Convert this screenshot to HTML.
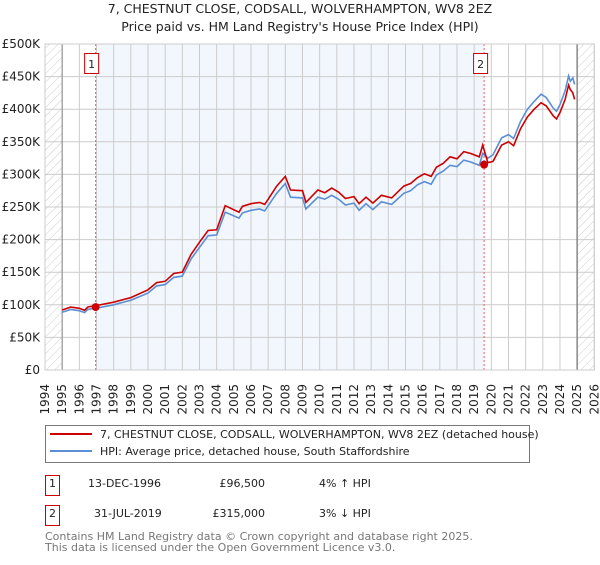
<!DOCTYPE html>
<html><head><meta charset="utf-8"><style>
body{margin:0;background:#fff;width:600px;height:560px;overflow:hidden;font-family:"Liberation Sans","DejaVu Sans",sans-serif}
svg text{font-family:"DejaVu Sans","Liberation Sans",sans-serif}
</style></head><body>
<svg id="chart" width="600" height="560" xmlns="http://www.w3.org/2000/svg">
<defs><pattern id="hatch" patternUnits="userSpaceOnUse" width="6" height="6" patternTransform="rotate(45)"><line x1="0" y1="0" x2="0" y2="6" stroke="#ccc" stroke-width="1"/></pattern></defs>
<text x="300" y="13" text-anchor="middle" font-size="12.5" fill="#222">7, CHESTNUT CLOSE, CODSALL, WOLVERHAMPTON, WV8 2EZ</text>
<text x="300" y="31" text-anchor="middle" font-size="12.5" fill="#222">Price paid vs. HM Land Registry's House Price Index (HPI)</text>
<g id="plot"></g>
<rect x="45.5" y="425.5" width="484" height="37" fill="#fff" stroke="#777"/>
<line x1="50" y1="434" x2="92" y2="434" stroke="#cc0000" stroke-width="2"/>
<text x="100" y="438" font-size="11" fill="#222">7, CHESTNUT CLOSE, CODSALL, WOLVERHAMPTON, WV8 2EZ (detached house)</text>
<line x1="50" y1="451" x2="92" y2="451" stroke="#5b8fd4" stroke-width="2"/>
<text x="100" y="455" font-size="11" fill="#222">HPI: Average price, detached house, South Staffordshire</text>
<g font-size="11" fill="#222">
<rect x="45.5" y="475.5" width="14" height="20" fill="#fff" stroke="#cc0000"/>
<text x="52.5" y="487" text-anchor="middle">1</text>
<text x="88" y="487">13-DEC-1996</text>
<text x="265" y="487" text-anchor="end">£96,500</text>
<text x="319" y="487">4% ↑ HPI</text>
</g>
<g font-size="11" fill="#222">
<rect x="45.5" y="505.5" width="14" height="20" fill="#fff" stroke="#cc0000"/>
<text x="52.5" y="517" text-anchor="middle">2</text>
<text x="94" y="517">31-JUL-2019</text>
<text x="265" y="517" text-anchor="end">£315,000</text>
<text x="319" y="517">3% ↓ HPI</text>
</g>
<text x="45" y="540" font-size="11" fill="#777">Contains HM Land Registry data © Crown copyright and database right 2025.</text>
<text x="45" y="551" font-size="11" fill="#777">This data is licensed under the Open Government Licence v3.0.</text>
</svg>
<script>
const years=[1995,1995.5,1996,1996.3,1996.5,1997,1998,1999,2000,2000.5,2001,2001.5,2002,2002.5,2003,2003.5,2004,2004.5,2005.3,2005.5,2006,2006.5,2006.8,2007,2007.5,2008,2008.3,2009,2009.2,2009.9,2010.3,2010.7,2011.1,2011.5,2012.0,2012.3,2012.7,2013.1,2013.6,2014.2,2014.9,2015.3,2015.7,2016.1,2016.5,2016.8,2017.2,2017.6,2018.0,2018.4,2018.8,2019.3,2019.5,2019.8,2020.1,2020.6,2021,2021.3,2021.7,2022.1,2022.5,2022.9,2023.2,2023.6,2023.8,2024,2024.3,2024.5,2024.6,2024.75,2024.85];
const hpiValues=[88.7,92.8,91,88,93,95,100,107,118,129,131,142,144,170,188,206,207,242,233,241,245,247,244,252,271,286,265,264,247,265,262,268,262,253,256,245,255,246,258,254,271,275,284,289,285,299,305,314,312,322,319,314,332,325,330,356,361,355,381,400,412,423,418,402,397,407,428,451,443,448,438];
const propertyValues=[92,96.5,94.6,91.5,96.7,99,104,111,123,134,136,148,150,177,196,214,215,252,242,251,255,257,254,262,282,297,276,275,257,276,272,279,273,263,266,255,265,256,268,264,282,286,295,301,297,311,317,327,324,335,332,327,345,318,320,345,350,344,370,388,400,410,405,390,385,395,415,437,430,425,415];
const saleYears=[1996.95,2019.58];
const saleValues=[96.5,315];
const saleLabels=["1","2"];
const yTicks=[0,50,100,150,200,250,300,350,400,450,500];
const yTickLabels=["£0","£50K","£100K","£150K","£200K","£250K","£300K","£350K","£400K","£450K","£500K"];
const xTicks=[1994,1995,1996,1997,1998,1999,2000,2001,2002,2003,2004,2005,2006,2007,2008,2009,2010,2011,2012,2013,2014,2015,2016,2017,2018,2019,2020,2021,2022,2023,2024,2025,2026];

const X0=45,X1=594.3,Y0=370,Y1=44;
const xs=y=>X0+(y-1994)/(2026-1994)*(X1-X0);
const ys=v=>Y0-v/500*(Y0-Y1);
const NS="http://www.w3.org/2000/svg";
const g=document.getElementById('plot');
function mk(tag,at,parent){const e=document.createElementNS(NS,tag);for(const k in at)e.setAttribute(k,at[k]);(parent||g).appendChild(e);return e;}

let r=mk('rect',{x:X0,y:Y1,width:X1-X0,height:Y0-Y1,fill:'#fff'});


r=mk('rect',{x:xs(saleYears[0]),y:Y1,width:xs(saleYears[1])-xs(saleYears[0]),height:Y0-Y1,fill:'#f2f6fd'});


r=mk('rect',{x:X0,y:Y1,width:xs(1995)-X0,height:Y0-Y1,fill:'url(#hatch)'});


r=mk('rect',{x:xs(2025),y:Y1,width:X1-xs(2025),height:Y0-Y1,fill:'url(#hatch)'});



yTicks.forEach((t,i)=>{
  const l=mk('line',{x1:X0,x2:X1,y1:ys(t),y2:ys(t),stroke:'#ccc','stroke-width':1});
  
  
  const tx=mk('text',{x:40,y:ys(t)+4,'text-anchor':'end','font-size':12,fill:'#222'});
  
  
  tx.textContent=yTickLabels[i];
});
xTicks.forEach(t=>{
  const l=mk('line',{x1:xs(t),x2:xs(t),y1:Y1,y2:Y0,stroke:'#ccc','stroke-width':1});
  
  
  const tx=mk('text',{x:xs(t)+4,y:384,'text-anchor':'end','font-size':12,fill:'#222',transform:`rotate(-90 ${xs(t)+4} 384)`});
  
  
  tx.textContent=t;
});
let b=mk('line',{x1:xs(1995),x2:xs(1995),y1:Y1,y2:Y0,stroke:'#888','stroke-width':1});


b=mk('line',{x1:xs(2025),x2:xs(2025),y1:Y1,y2:Y0,stroke:'#888','stroke-width':1.5});



saleYears.forEach((sy,i)=>{
  const l=mk('line',{x1:xs(sy),x2:xs(sy),y1:Y1,y2:Y0,stroke:'#e06060','stroke-width':1,'stroke-dasharray':'2,2'});
  
  
});

const pts=(vals)=>years.map((y,i)=>xs(y).toFixed(1)+','+ys(vals[i]).toFixed(1)).join(' ');
let p=mk('polyline',{points:pts(hpiValues),fill:'none',stroke:'#5b8fd4','stroke-width':1.6});


p=mk('polyline',{points:pts(propertyValues),fill:'none',stroke:'#cc0000','stroke-width':1.6});



const boxOff=[-11,-10.5];
saleYears.forEach((sy,i)=>{
  const c=mk('circle',{cx:xs(sy),cy:ys(saleValues[i]),r:4,fill:'#cc0000'});
  
  
  const bx=mk('rect',{x:xs(sy)+boxOff[i],y:53.5,width:14,height:20,fill:'#fff',stroke:'#cc0000'});
  
  
  const t=mk('text',{x:xs(sy)+boxOff[i]+7,y:68,'text-anchor':'middle','font-size':11,fill:'#222'});
  
  
  t.textContent=saleLabels[i];
});
const border=mk('rect',{x:X0,y:Y1,width:X1-X0,height:Y0-Y1,fill:'none',stroke:'#ccc'});


</script>
</body></html>
